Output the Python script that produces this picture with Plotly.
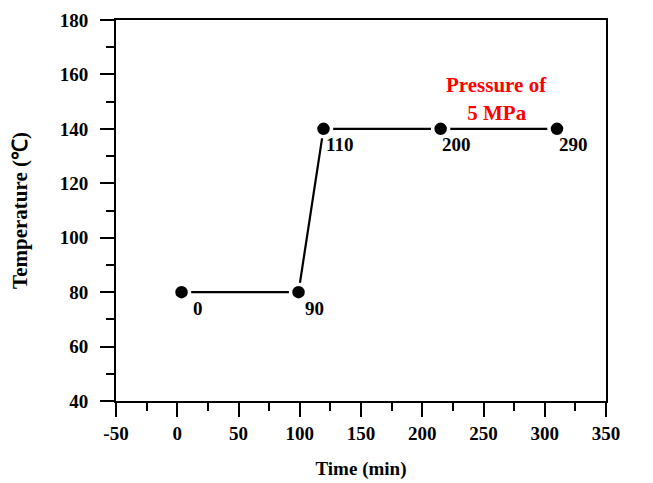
import plotly.graph_objects as go

# x positions as drawn in the picture (markers sit slightly right of their nominal labels)
time_min = [3.5, 99, 119.4, 215, 310]
temperature = [80, 80, 140, 140, 140]
point_labels = ["0", "90", "110", "200", "290"]
x_ticks = [-50, 0, 50, 100, 150, 200, 250, 300, 350]
x_tick_text = ["-50", "0", "50", "100", "150", "200", "250", "300", "350"]
y_ticks = [40, 60, 80, 100, 120, 140, 160, 180]

font_family = "Liberation Serif"

fig = go.Figure()
fig.add_trace(go.Scatter(
    x=time_min, y=temperature,
    mode="lines+markers",
    line=dict(color="black", width=2.2),
    marker=dict(color="black", size=16, line=dict(color="white", width=3.5)),
    showlegend=False,
))

for xv, yv, lab in zip(time_min, temperature, point_labels):
    fig.add_annotation(
        x=xv, y=yv, xref="x", yref="y", text=f"<b>{lab}</b>", showarrow=False,
        xanchor="center", yanchor="middle", xshift=16, yshift=-16,
        font=dict(family=font_family, size=19, color="black"),
    )

fig.add_annotation(
    x=261, y=156.0, xref="x", yref="y",
    text="<b>Pressure of</b>", showarrow=False,
    font=dict(family=font_family, size=21, color="red"),
)
fig.add_annotation(
    x=261, y=145.9, xref="x", yref="y",
    text="<b>5 MPa</b>", showarrow=False,
    font=dict(family=font_family, size=21, color="red"),
    bgcolor="white", width=88, height=19,
)

axis_common = dict(
    showgrid=False, zeroline=False, automargin=False,
    showline=True, linecolor="black", linewidth=2, mirror=True,
    ticks="outside", ticklen=14, tickwidth=2, tickcolor="black",
    tickfont=dict(family=font_family, size=19, color="black", weight="bold"),
)

fig.update_xaxes(
    range=[-50, 350], tickvals=x_ticks, ticktext=x_tick_text,
    minor=dict(dtick=25, ticks="outside", ticklen=8, tickwidth=2, tickcolor="black"),
    title=dict(text="<b>Time (min)</b>", font=dict(family=font_family, size=19, color="black"), standoff=19),
    **axis_common,
)
fig.update_yaxes(
    range=[40, 180], tickvals=y_ticks,
    minor=dict(dtick=10, ticks="outside", ticklen=8, tickwidth=2, tickcolor="black"),
    ticklabelstandoff=8,
    title=dict(text="<b>Temperature (℃)</b>", font=dict(family=font_family, size=21, color="black"), standoff=30),
    **axis_common,
)

fig.update_layout(
    width=645, height=475,
    margin=dict(l=108, r=47, t=12, b=82),
    plot_bgcolor="white", paper_bgcolor="white",
)

fig.write_html("out.html")
